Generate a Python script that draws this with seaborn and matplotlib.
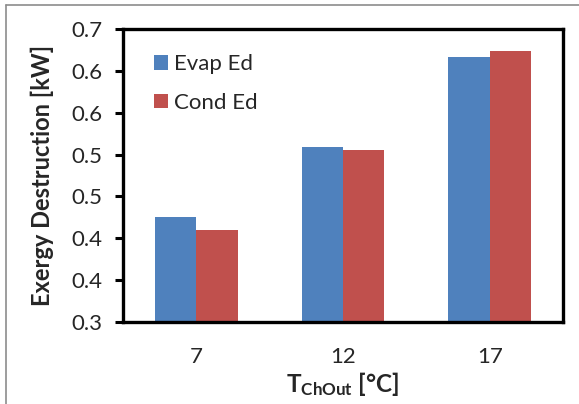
import numpy as np
import pandas as pd
import matplotlib
matplotlib.use("Agg")
import matplotlib.pyplot as plt
import seaborn as sns
from matplotlib.lines import Line2D

# data
categories = ['7', '12', '17']
evap_ed = [0.425, 0.509, 0.616]
cond_ed = [0.410, 0.505, 0.624]
series_names = ['Evap Ed', 'Cond Ed']
y_ticks = [0.30, 0.35, 0.40, 0.45, 0.50, 0.55, 0.60, 0.65]
y_ticklabels = ['0.3', '0.4', '0.4', '0.5', '0.5', '0.6', '0.6', '0.7']

df = pd.DataFrame({
    'T': categories * 2,
    'Ed': evap_ed + cond_ed,
    'Serie': [series_names[0]] * 3 + [series_names[1]] * 3,
})

sns.set_style('white')
plt.rcParams['font.family'] = ['Lato', 'DejaVu Sans']
plt.rcParams['mathtext.fontset'] = 'custom'
plt.rcParams['mathtext.rm'] = 'Lato:bold'
plt.rcParams['mathtext.bf'] = 'Lato:bold'

fig = plt.figure(figsize=(5.79, 4.04), dpi=100)
ax = fig.add_axes([123 / 579, 82 / 404, 440 / 579, 293 / 404])

sns.barplot(data=df, x='T', y='Ed', hue='Serie', order=categories,
            palette=['#4F81BD', '#C0504D'], saturation=1, width=0.565, gap=0,
            linewidth=0, ax=ax)

ax.set_ylim(0.30, 0.65)
ax.set_xlim(-0.5, 2.5)
ax.set_yticks(y_ticks)
ax.set_yticklabels(y_ticklabels, fontsize=16)
ax.set_xticks(range(3))
ax.set_xticklabels(categories, fontsize=16)
ax.set_xticks([-0.5, 0.5, 1.5, 2.5], minor=True)
ax.tick_params(axis='x', which='major', length=0, pad=18)
ax.tick_params(axis='x', which='minor', length=6, width=2.2, color='black', direction='out')
ax.tick_params(axis='y', length=6, width=2.2, color='black', direction='out', left=True, pad=9)

for s in ax.spines.values():
    s.set_linewidth(2.4)
    s.set_color('black')

ax.set_ylabel('Exergy Destruction [kW]', fontsize=17, fontweight='bold', labelpad=12)
ax.set_xlabel(r'$\mathbf{T_{ChOut}}$ [°C]', fontsize=17.5, fontweight='bold', labelpad=2)

ax.legend(loc='upper left', bbox_to_anchor=(0.07, 0.915), frameon=False,
          fontsize=16, handlelength=0.65, handleheight=0.65, handletextpad=0.25,
          labelspacing=0.85, borderaxespad=0, borderpad=0)

# grey chart area border (Excel style)
fig.add_artist(Line2D([6 / 579, 6 / 579], [0, 1 - 5 / 404], color='#8c8c8c', lw=1.2))
fig.add_artist(Line2D([6 / 579, 1], [1 - 5 / 404, 1 - 5 / 404], color='#8c8c8c', lw=1.2))

fig.savefig('out.png', dpi=100)
